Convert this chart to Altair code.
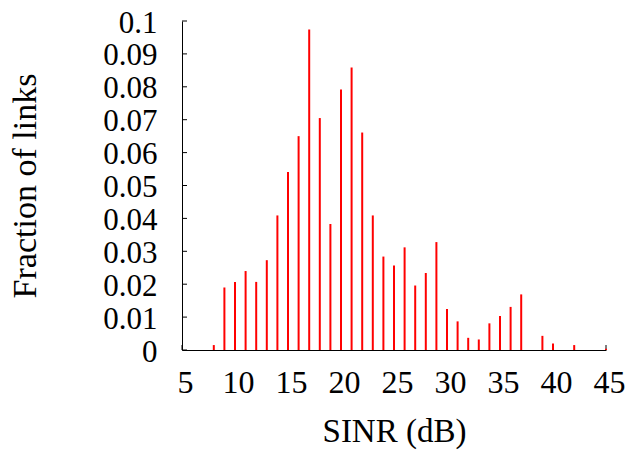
import altair as alt
import pandas as pd

# SINR values (dB) and fraction of links
sinr = [8, 9, 10, 11, 12, 13, 14, 15, 16, 17, 18, 19, 20, 21, 22, 23, 24, 25,
        26, 27, 28, 29, 30, 31, 32, 33, 34, 35, 36, 37, 39, 40, 42, 45]
fraction = [0.0015, 0.019, 0.0207, 0.024, 0.0207, 0.0273, 0.0409, 0.0541, 0.065,
            0.0974, 0.0705, 0.0383, 0.0792, 0.0859, 0.0661, 0.0409, 0.0284, 0.0257,
            0.0312, 0.0196, 0.0234, 0.0328, 0.0125, 0.0087, 0.0037, 0.0032, 0.0081,
            0.0103, 0.0131, 0.0169, 0.0043, 0.002, 0.0015, 0.0004]

x_ticks = [5, 10, 15, 20, 25, 30, 35, 40, 45]
y_ticks = [0, 0.01, 0.02, 0.03, 0.04, 0.05, 0.06, 0.07, 0.08, 0.09, 0.1]

df = pd.DataFrame({"sinr": sinr, "frac": fraction})
xt = pd.DataFrame({"t": x_ticks})
yt = pd.DataFrame({"t": y_ticks})

W, H = 424, 329

xscale = alt.Scale(domain=[5, 45], nice=False, zero=False)
yscale = alt.Scale(domain=[0, 0.1], nice=False)

xaxis = alt.Axis(values=x_ticks, ticks=False, grid=False, labelPadding=17,
                 labelFontSize=32, labelFlush=False, labelOverlap=False,
                 labelOffset=3, title="SINR (dB)", titleFontSize=33,
                 titleFontWeight="normal", titleBaseline="alphabetic",
                 titleY=91, domainColor="black", domainWidth=1,
                 labelColor="black", titleColor="black", format="d")
yaxis = alt.Axis(values=y_ticks, ticks=False, grid=False, labelPadding=25,
                 labelFontSize=31, format=".2~f", labelOverlap=False,
                 title="Fraction of links",
                 titleFontSize=34, titleFontWeight="normal", titleAngle=270,
                 titleBaseline="alphabetic", titleAlign="center",
                 titleX=-147, titleY=H / 2, domainColor="black", domainWidth=1,
                 labelColor="black", titleColor="black", labelOffset=2,
                 labelFlush=False)

ytick_layer = alt.Chart(yt).mark_rule(color="black", strokeWidth=1).encode(
    y=alt.Y("t:Q", scale=yscale, axis=yaxis),
    x=alt.value(0), x2=alt.value(5),
)
xtick_layer = alt.Chart(xt).mark_rule(color="black", strokeWidth=1).encode(
    x=alt.X("t:Q", scale=xscale, axis=xaxis),
    y=alt.value(H), y2=alt.value(H - 5),
)
bars = alt.Chart(df).mark_rule(color="#ff0000", strokeWidth=2).encode(
    x=alt.X("sinr:Q", scale=xscale, axis=xaxis),
    y=alt.Y("frac:Q", scale=yscale, axis=yaxis),
    y2=alt.datum(0),
)

chart = alt.layer(ytick_layer, xtick_layer, bars).properties(
    width=W, height=H,
    autosize=alt.AutoSizeParams(type="none"),
    padding={"left": 182, "top": 21, "right": 22, "bottom": 100},
).configure(font="Liberation Serif").configure_view(stroke=None)

chart.save("out.html", embed_options={"renderer": "svg", "actions": False})
